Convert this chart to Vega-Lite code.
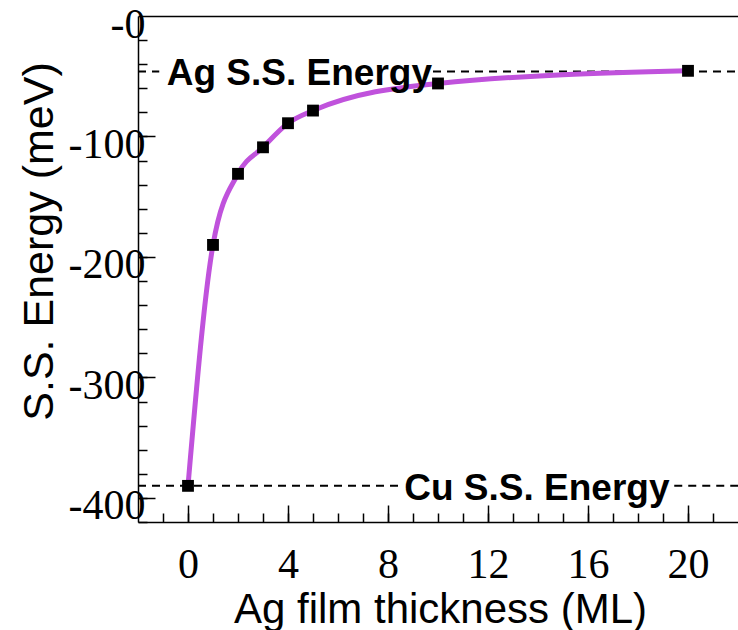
{
  "$schema": "https://vega.github.io/schema/vega-lite/v6.json",
  "width": 600,
  "height": 506,
  "autosize": {"type": "none"},
  "padding": {"left": 138, "top": 16, "right": 0, "bottom": 108},
  "background": "white",
  "config": {
    "view": {"stroke": null},
    "axis": {"grid": false, "labelColor": "#000", "titleColor": "#000", "domainColor": "#000", "tickColor": "#000", "labelOverlap": false, "labelFlush": false, "labelBound": false}
  },
  "datasets": {
    "points": [
      {"ml": 0, "energy": -390},
      {"ml": 1, "energy": -190},
      {"ml": 2, "energy": -131},
      {"ml": 3, "energy": -109},
      {"ml": 4, "energy": -89},
      {"ml": 5, "energy": -78.5},
      {"ml": 10, "energy": -56},
      {"ml": 20, "energy": -45.5}
    ],
    "refs": [
      {"ref": "Ag", "x1": -2, "x2": -1.15, "energy": -46},
      {"ref": "Ag", "x1": 9.8, "x2": 22, "energy": -46},
      {"ref": "Cu", "x1": -2, "x2": 8.5, "energy": -390},
      {"ref": "Cu", "x1": 19.45, "x2": 22, "energy": -390}
    ],
    "labels": [
      {"label": "Ag S.S. Energy", "ml": -0.85, "energy": -46},
      {"label": "Cu S.S. Energy", "ml": 8.65, "energy": -390}
    ]
  },
  "resolve": {"axis": {"x": "independent", "y": "independent"}},
  "layer": [
    {
      "data": {"name": "refs"},
      "mark": {"type": "rule", "color": "#000", "strokeWidth": 2, "strokeDash": [8, 6]},
      "encoding": {
        "x": {"field": "x1", "type": "quantitative", "scale": {"domain": [-2, 22], "nice": false, "zero": false},
          "axis": {"orient": "bottom", "values": [-1,0,1,2,3,4,5,6,7,8,9,10,11,12,13,14,15,16,17,18,19,20,21], "labels": false, "domain": false, "ticks": true, "tickSize": -9, "tickWidth": 1.5, "title": null}},
        "x2": {"field": "x2"},
        "y": {"field": "energy", "type": "quantitative", "scale": {"domain": [-420, 0], "nice": false, "zero": false},
          "axis": {"orient": "left", "values": [-420,-400,-380,-360,-340,-320,-300,-280,-260,-240,-220,-200,-180,-160,-140,-120,-100,-80,-60,-40,-20], "labels": false, "domain": false, "ticks": true, "tickSize": -9, "tickWidth": 1.5, "title": null}}
      }
    },
    {
      "data": {"name": "points"},
      "mark": {"type": "line", "color": "#c052dc", "strokeWidth": 5, "interpolate": "monotone"},
      "encoding": {
        "x": {"field": "ml", "type": "quantitative", "scale": {"domain": [-2, 22], "nice": false, "zero": false},
          "axis": {"orient": "bottom", "values": [0, 4, 8, 12, 16, 20], "ticks": false, "domain": true, "domainWidth": 1.5,
            "labelFont": "Liberation Serif", "labelFontSize": 42, "labelBaseline": "alphabetic", "labelPadding": 55,
            "title": "Ag film thickness (ML)", "titleFont": "Liberation Sans", "titleFontSize": 42, "titleFontWeight": "normal",
            "titleX": 302, "titleY": 100, "titleAlign": "center", "titleBaseline": "alphabetic"}},
        "y": {"field": "energy", "type": "quantitative", "scale": {"domain": [-420, 0], "nice": false, "zero": false},
          "axis": {"orient": "left", "values": [-400, -300, -200, -100, 0], "ticks": false, "domain": true, "domainWidth": 1.5,
            "labelExpr": "'-' + abs(datum.value)",
            "labelFont": "Liberation Serif", "labelFontSize": 42, "labelAlign": "right", "labelBaseline": "middle", "labelPadding": -7, "labelOffset": 8,
            "title": "S.S. Energy (meV)", "titleFont": "Liberation Sans", "titleFontSize": 43, "titleFontWeight": "normal",
            "titleX": -86, "titleY": 225, "titleAngle": -90, "titleAlign": "center", "titleBaseline": "alphabetic"}}
      }
    },
    {
      "data": {"name": "points"},
      "mark": {"type": "point", "shape": "square", "filled": true, "color": "#000", "opacity": 1, "size": 140},
      "encoding": {
        "x": {"field": "ml", "type": "quantitative", "scale": {"domain": [-2, 22], "nice": false, "zero": false},
          "axis": {"orient": "bottom", "values": [0, 4, 8, 12, 16, 20], "labels": false, "domain": false, "ticks": true, "tickSize": -17, "tickWidth": 1.5, "title": null}},
        "y": {"field": "energy", "type": "quantitative", "scale": {"domain": [-420, 0], "nice": false, "zero": false},
          "axis": {"orient": "left", "values": [-400, -300, -200, -100], "labels": false, "domain": false, "ticks": true, "tickSize": -17, "tickWidth": 1.5, "title": null}}
      }
    },
    {
      "data": {"name": "labels"},
      "mark": {"type": "text", "align": "left", "baseline": "middle", "dy": 3, "font": "Liberation Sans", "fontWeight": "bold", "fontSize": 37, "color": "#000"},
      "encoding": {
        "x": {"field": "ml", "type": "quantitative", "scale": {"domain": [-2, 22], "nice": false, "zero": false},
          "axis": {"orient": "top", "labels": false, "ticks": false, "domain": true, "domainWidth": 1.5, "title": null}},
        "y": {"field": "energy", "type": "quantitative", "scale": {"domain": [-420, 0], "nice": false, "zero": false}, "axis": null},
        "text": {"field": "label", "type": "nominal"}
      }
    }
  ]
}
